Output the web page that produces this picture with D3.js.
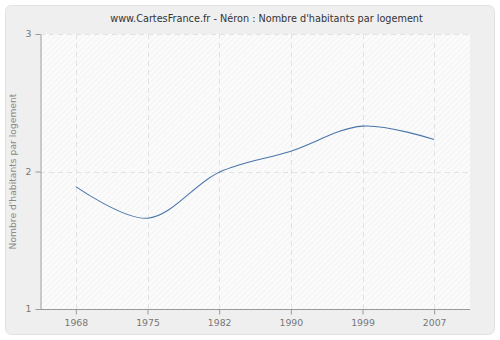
<!DOCTYPE html>
<html>
<head>
<meta charset="utf-8">
<script src="https://cdn.jsdelivr.net/npm/d3@7"></script>
<style>
  html, body { margin: 0; padding: 0; background: #ffffff; }
  svg { display: block; }
  text { font-family: "DejaVu Sans", Verdana, sans-serif; }
</style>
</head>
<body>
<svg id="chart" width="500" height="340"></svg>
<script>
// Census years and average household size
const years = ["1968", "1975", "1982", "1990", "1999", "2007"];
const habitantsParLogement = [1.89, 1.66, 1.995, 2.148, 2.33, 2.233];
const yTicks = [1, 2, 3];

const titleText = "www.CartesFrance.fr - Néron : Nombre d'habitants par logement";
const yLabelText = "Nombre d'habitants par logement";

const W = 500, H = 340;
const plot = { left: 40, right: 470, top: 34, bottom: 309 };

const svg = d3.select("#chart");

// hatch pattern for the plotting area
const defs = svg.append("defs");
const pat = defs.append("pattern")
  .attr("id", "hatch")
  .attr("patternUnits", "userSpaceOnUse")
  .attr("width", 4).attr("height", 4)
  .attr("patternTransform", "rotate(45)");
pat.append("rect").attr("width", 4).attr("height", 4).attr("fill", "#fbfbfb");
pat.append("line").attr("x1", 0).attr("y1", 0).attr("x2", 0).attr("y2", 4)
  .attr("stroke", "#efefef").attr("stroke-width", 1.2);

// outer panel
svg.append("rect")
  .attr("x", 5.5).attr("y", 5.5).attr("width", 489).attr("height", 329)
  .attr("rx", 6).attr("ry", 6)
  .attr("fill", "#efefef").attr("stroke", "#e2e2e2");

// plotting area background
svg.append("rect")
  .attr("x", plot.left).attr("y", plot.top)
  .attr("width", plot.right - plot.left).attr("height", plot.bottom - plot.top)
  .attr("fill", "url(#hatch)");

const x = d3.scalePoint().domain(years).range([plot.left, plot.right]).padding(0.5);
const y = d3.scaleLinear().domain([1, 3]).range([plot.bottom, plot.top]);

// dashed grid
const grid = svg.append("g").attr("stroke", "#e2e2e2").attr("stroke-dasharray", "5,4");
grid.selectAll("line.v").data(years).join("line")
  .attr("x1", d => Math.round(x(d)) + 0.5).attr("x2", d => Math.round(x(d)) + 0.5)
  .attr("y1", plot.top).attr("y2", plot.bottom);
grid.selectAll("line.h").data(yTicks.filter(t => t > 1)).join("line")
  .attr("x1", plot.left).attr("x2", plot.right)
  .attr("y1", d => Math.round(y(d)) + 0.5).attr("y2", d => Math.round(y(d)) + 0.5);

// axes
const xAxis = svg.append("g")
  .attr("transform", `translate(0,${plot.bottom + 0.5})`)
  .call(d3.axisBottom(x).tickSize(5).tickPadding(5).tickSizeOuter(0));
const yAxis = svg.append("g")
  .attr("transform", `translate(${plot.left + 0.5},0)`)
  .call(d3.axisLeft(y).tickValues(yTicks).tickFormat(d3.format("d")).tickSize(5).tickPadding(4).tickSizeOuter(0));

[xAxis, yAxis].forEach(g => {
  g.select(".domain").attr("stroke", "#999999");
  g.selectAll(".tick line").attr("stroke", "#999999");
  g.selectAll(".tick text").attr("fill", "#777777").attr("font-size", 9.3)
    .attr("font-family", "DejaVu Sans, Verdana, sans-serif");
});
xAxis.select(".domain").attr("d", `M${plot.left},0H${plot.right}`);

// line
const line = d3.line()
  .x((d, i) => x(years[i]))
  .y(d => y(d))
  .curve(d3.curveCatmullRom.alpha(0.5));

svg.append("path")
  .datum(habitantsParLogement)
  .attr("fill", "none")
  .attr("stroke", "#4a76ab")
  .attr("stroke-width", 1.1)
  .attr("d", line);

// title
svg.append("text")
  .attr("x", 266.5).attr("y", 22)
  .attr("text-anchor", "middle")
  .attr("font-size", 9.7)
  .attr("fill", "#333333")
  .text(titleText);

// y-axis label
svg.append("text")
  .attr("transform", `translate(16,${(plot.top + plot.bottom) / 2}) rotate(-90)`)
  .attr("text-anchor", "middle")
  .attr("font-size", 9.2)
  .attr("fill", "#888888")
  .text(yLabelText);
</script>
</body>
</html>
